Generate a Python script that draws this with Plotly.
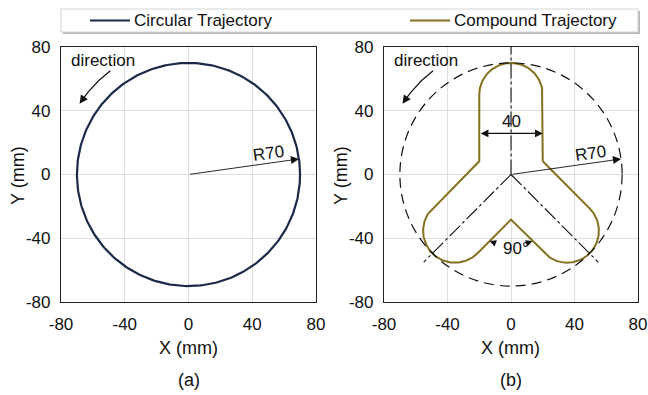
import numpy as np
import plotly.graph_objects as go

W, H = 648, 395

# ---- data ----
series_names = ["Circular Trajectory", "Compound Trajectory"]
series_colors = ["#1b2a4a", "#85701f"]
circle_radius = 70            # R70
arm_width = 40                # width of each lobe
arm_length = 50               # distance from origin to lobe end centre
arm_angles_deg = [90, 225, 315]
centerline_ends_x = [0, -55, 55]
centerline_ends_y = [80, -55, -55]
tick_vals = [-80, -40, 0, 40, 80]
tick_text = ["-80", "-40", "0", "40", "80"]
axis_range = [-80, 80]
panel_labels = ["(a)", "(b)"]

FONT = "Liberation Sans, Arial, sans-serif"


def px_x(p):
    return p / W


def px_y(p):
    return 1 - p / H


# circular trajectory
th = np.linspace(0, 2 * np.pi, 361)
cx = circle_radius * np.cos(th)
cy = circle_radius * np.sin(th)

# compound trajectory outline
w = arm_width / 2
angs = [np.radians(a) for a in arm_angles_deg]
xs, ys = [], []
n = len(angs)
for i in range(n):
    a = angs[i]
    prev = angs[i - 1] if i > 0 else angs[-1] - 2 * np.pi
    half = (a - prev) / 2
    bis = (a + prev) / 2
    dj = w / np.sin(half)
    xs.append(dj * np.cos(bis))
    ys.append(dj * np.sin(bis))
    ecx = arm_length * np.cos(a)
    ecy = arm_length * np.sin(a)
    t = np.linspace(a - np.pi / 2, a + np.pi / 2, 90)
    xs.extend(ecx + w * np.cos(t))
    ys.extend(ecy + w * np.sin(t))
xs.append(xs[0])
ys.append(ys[0])

fig = go.Figure()
fig.add_trace(go.Scatter(x=cx, y=cy, mode="lines", name=series_names[0],
                         line=dict(color=series_colors[0], width=2.2),
                         xaxis="x", yaxis="y", showlegend=False, hoverinfo="skip"))
fig.add_trace(go.Scatter(x=xs, y=ys, mode="lines", name=series_names[1],
                         line=dict(color=series_colors[1], width=2),
                         xaxis="x2", yaxis="y2", showlegend=False, hoverinfo="skip"))

# direction arcs (both panels)
arc_r = 81.5
arc_t = np.radians(np.linspace(127, 146, 40))
for xa, ya in (("x", "y"), ("x2", "y2")):
    fig.add_trace(go.Scatter(x=arc_r * np.cos(arc_t), y=arc_r * np.sin(arc_t), mode="lines",
                             line=dict(color="#111111", width=1.2), xaxis=xa, yaxis=ya,
                             showlegend=False, hoverinfo="skip"))

dom_y = [px_y(302), px_y(47)]
axis_common = dict(range=axis_range, tickvals=tick_vals, ticktext=tick_text,
                   showgrid=True, gridcolor="#dddddd", gridwidth=1, zeroline=False,
                   showline=True, mirror=True, linecolor="#222222", linewidth=1.2,
                   ticks="", ticklabelstandoff=6, automargin=False,
                   tickfont=dict(family=FONT, size=17, color="#111111"), fixedrange=True)

fig.update_layout(
    template="none",
    width=W, height=H, margin=dict(l=0, r=0, t=0, b=0, pad=0),
    paper_bgcolor="white", plot_bgcolor="white",
    font=dict(family=FONT, color="#111111"),
    xaxis=dict(domain=[px_x(61), px_x(316)], anchor="y", **axis_common),
    yaxis=dict(domain=dom_y, anchor="x", **axis_common),
    xaxis2=dict(domain=[px_x(384), px_x(638)], anchor="y2", **axis_common),
    yaxis2=dict(domain=dom_y, anchor="x2", **axis_common),
    showlegend=False,
)

shapes = []
# legend box (manual) with shadow
shapes.append(dict(type="rect", xref="paper", yref="paper",
                   x0=px_x(63), x1=px_x(640), y0=px_y(34), y1=px_y(11),
                   fillcolor="#b8b8b8", line=dict(width=0), layer="below"))
shapes.append(dict(type="rect", xref="paper", yref="paper",
                   x0=px_x(61), x1=px_x(638), y0=px_y(32), y1=px_y(9),
                   fillcolor="white", line=dict(color="#d4d4d4", width=1), layer="below"))
shapes.append(dict(type="line", xref="paper", yref="paper",
                   x0=px_x(90), x1=px_x(130), y0=px_y(20.5), y1=px_y(20.5),
                   line=dict(color=series_colors[0], width=2)))
shapes.append(dict(type="line", xref="paper", yref="paper",
                   x0=px_x(410), x1=px_x(450), y0=px_y(20.5), y1=px_y(20.5),
                   line=dict(color=series_colors[1], width=2)))
# dashed reference circle in (b)
shapes.append(dict(type="circle", xref="x2", yref="y2",
                   x0=-circle_radius, x1=circle_radius, y0=-circle_radius, y1=circle_radius,
                   line=dict(color="#111111", width=1.2, dash="10px,6px")))
# centre lines (dash-dot)
for ex, ey in zip(centerline_ends_x, centerline_ends_y):
    shapes.append(dict(type="line", xref="x2", yref="y2", x0=0, y0=0, x1=ex, y1=ey,
                       line=dict(color="#111111", width=1.1, dash="15px,3px,3px,3px")))
fig.update_layout(shapes=shapes)

ann = []
ann.append(dict(xref="paper", yref="paper", x=px_x(132), y=px_y(20.5), text=series_names[0],
                showarrow=False, xanchor="left", yanchor="middle",
                font=dict(family=FONT, size=17, color="#111111")))
ann.append(dict(xref="paper", yref="paper", x=px_x(452), y=px_y(20.5), text=series_names[1],
                showarrow=False, xanchor="left", yanchor="middle",
                font=dict(family=FONT, size=17, color="#111111")))

# axis titles and panel labels
for cxp, lab in ((188.5, panel_labels[0]), (511, panel_labels[1])):
    ann.append(dict(xref="paper", yref="paper", x=px_x(cxp), y=px_y(348), text="X (mm)",
                    showarrow=False, xanchor="center", yanchor="middle",
                    font=dict(family=FONT, size=18, color="#111111")))
    ann.append(dict(xref="paper", yref="paper", x=px_x(cxp), y=px_y(380), text=lab,
                    showarrow=False, xanchor="center", yanchor="middle",
                    font=dict(family=FONT, size=18, color="#111111")))
for cxp in (18, 341):
    ann.append(dict(xref="paper", yref="paper", x=px_x(cxp), y=px_y(176), text="Y (mm)",
                    showarrow=False, xanchor="center", yanchor="middle", textangle=-90,
                    font=dict(family=FONT, size=18, color="#111111")))

rad_ang = np.radians(8)
rx, ry = circle_radius * np.cos(rad_ang), circle_radius * np.sin(rad_ang)
arc_end = np.radians(147)
arc_pre = np.radians(143)
for xa, ya in (("x", "y"), ("x2", "y2")):
    ann.append(dict(xref=xa, yref=ya, x=-53.5, y=71.5, text="direction", showarrow=False,
                    font=dict(family=FONT, size=17, color="#111111")))
    ann.append(dict(xref=xa, yref=ya, axref=xa, ayref=ya,
                    x=arc_r * np.cos(arc_end), y=arc_r * np.sin(arc_end),
                    ax=arc_r * np.cos(arc_pre), ay=arc_r * np.sin(arc_pre),
                    text="", showarrow=True, arrowhead=2, arrowsize=1.4, arrowwidth=1.2,
                    arrowcolor="#111111"))
    ann.append(dict(xref=xa, yref=ya, axref=xa, ayref=ya, x=rx, y=ry, ax=0, ay=0,
                    text="", showarrow=True, arrowhead=2, arrowsize=1.8, arrowwidth=0.9,
                    arrowcolor="#111111"))
    ann.append(dict(xref=xa, yref=ya, x=50, y=13, text="R70", showarrow=False, textangle=-8,
                    font=dict(family=FONT, size=17, color="#111111")))

# dimension "40"
ann.append(dict(xref="x2", yref="y2", axref="x2", ayref="y2", x=w, y=25.8, ax=-w, ay=25.8,
                text="", showarrow=True, arrowhead=2, arrowside="end+start",
                arrowsize=1.4, arrowwidth=1.1, arrowcolor="#111111"))
ann.append(dict(xref="x2", yref="y2", x=0.5, y=33, text=str(arm_width), showarrow=False,
                font=dict(family=FONT, size=17, color="#111111")))
# angle "90°"
ann.append(dict(xref="x2", yref="y2", x=3, y=-46.5, text="90°", showarrow=False,
                font=dict(family=FONT, size=17, color="#111111")))
for sgn in (-1, 1):
    ann.append(dict(xref="x2", yref="y2", axref="x2", ayref="y2",
                    x=sgn * 13.5, y=-41.8, ax=sgn * 9.5, ay=-43.3,
                    text="", showarrow=True, arrowhead=2, arrowsize=1.2, arrowwidth=1.1,
                    arrowcolor="#111111"))

fig.update_layout(annotations=ann)
fig.write_html("out.html")
